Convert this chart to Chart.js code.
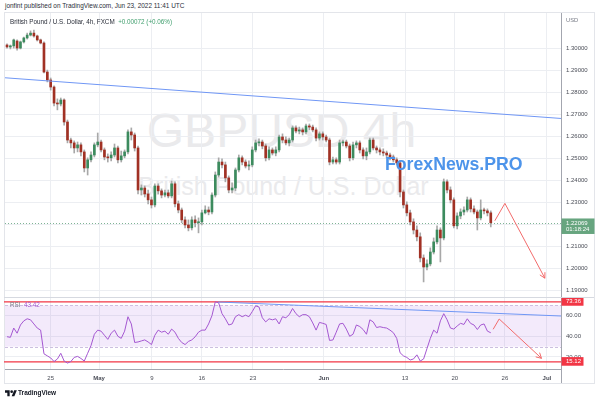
<!DOCTYPE html>
<html>
<head>
<meta charset="utf-8">
<script src="https://cdn.jsdelivr.net/npm/chart.js@4/dist/chart.umd.min.js"></script>
<style>
  body { margin: 0; width: 600px; height: 403px; background: #fff; position: relative; overflow: hidden;
         font-family: "Liberation Sans", Arial, sans-serif; }
  .t { position: absolute; white-space: nowrap; line-height: 1; }
  canvas { position: absolute; left: 0; }
</style>
</head>
<body>
<div class="t" style="left:5px;top:3.3px;font-size:6.45px;color:#2a2e39">jonfint published on TradingView.com, Jun 23, 2022 11:41 UTC</div>
<div style="position:absolute;left:4px;top:12px;width:589px;height:370px;border:1px solid #e3e5ea"></div>
<div class="t" style="left:0;width:563px;text-align:center;top:106.5px;font-size:48px;color:#eaeaec">GBPUSD 4h</div>
<div class="t" style="left:0;width:567px;text-align:center;top:173.8px;font-size:25px;color:#eaeaec">British Pound / U.S. Dollar</div>

<canvas id="priceChart" width="600" height="284" style="top:13px"></canvas>
<canvas id="rsiChart" width="600" height="86" style="top:297px"></canvas>

<div class="t" style="left:10px;top:19.3px;font-size:6.3px;color:#2a2e39">British Pound / U.S. Dollar, 4h, FXCM&nbsp; <span style="color:#3f9e6d">+0.00072 (+0.06%)</span></div>
<div class="t" style="left:566px;top:18.1px;font-size:5.8px;color:#787b86">USD</div>
<div class="t" style="left:385px;top:156.3px;font-size:17.7px;font-weight:bold;color:#4d94ea">ForexNews.PRO</div>
<div class="t" style="left:10px;top:302.4px;font-size:6.3px;color:#787b86">RSI&nbsp; <span style="color:#a457d1">43.42</span></div>
<svg style="position:absolute;left:5px;top:389px" width="12" height="8" viewBox="0 0 36 24">
  <path d="M14 22H7V11H0V4h14v18zM28 22h-8l7.5-18h8L28 22z" fill="#131722"/><circle cx="20" cy="8" r="4" fill="#131722"/>
</svg>
<div class="t" style="left:18px;top:389.8px;font-size:6.5px;font-weight:bold;color:#131722">TradingView</div>

<script>
// time axis: positions are candle indexes (one candle = 8 hours)
const tickPos = [13.0, 27.4, 43.1, 58.0, 73.2, 94.3, 118.5, 133.3, 148.2, 160.7];
const tickLabels = ['25', 'May', '9', '16', '23', 'Jun', '13', '20', '26', 'Jul'];
const monthLabels = ['May', 'Jun', 'Jul'];
const priceTicks = [1.19, 1.20, 1.21, 1.22, 1.23, 1.24, 1.25, 1.26, 1.27, 1.28, 1.29, 1.30];
const rsiTicks = [20, 40, 60];

const opens = [
  1.3015,1.3006,1.3011,1.3033,1.3001,1.3029,1.3047,1.3060,1.3069,1.3056,
  1.3038,1.3024,1.2892,1.2856,1.2824,1.2751,1.2747,1.2765,1.2665,1.2583,
  1.2570,1.2547,1.2561,1.2529,1.2456,1.2493,1.2515,1.2561,1.2574,1.2538,
  1.2506,1.2502,1.2515,1.2547,1.2493,1.2511,1.2529,1.2620,1.2606,1.2547,
  1.2356,1.2365,1.2338,1.2311,1.2288,1.2374,1.2352,1.2333,1.2343,1.2329,
  1.2384,1.2293,1.2265,1.2220,1.2197,1.2184,1.2220,1.2207,1.2211,1.2252,
  1.2265,1.2256,1.2333,1.2424,1.2483,1.2470,1.2411,1.2356,1.2365,1.2447,
  1.2502,1.2483,1.2465,1.2470,1.2538,1.2570,1.2574,1.2556,1.2502,1.2538,
  1.2524,1.2538,1.2597,1.2583,1.2570,1.2583,1.2638,1.2624,1.2629,1.2620,
  1.2647,1.2642,1.2629,1.2592,1.2611,1.2597,1.2583,1.2483,1.2493,1.2483,
  1.2570,1.2574,1.2556,1.2502,1.2561,1.2570,1.2538,1.2511,1.2529,1.2583,
  1.2547,1.2538,1.2529,1.2524,1.2515,1.2506,1.2493,1.2479,1.2347,1.2288,
  1.2252,1.2211,1.2174,1.2143,1.2047,1.2006,1.2020,1.2074,1.2120,1.2174,
  1.2138,1.2393,1.2356,1.2311,1.2193,1.2238,1.2256,1.2265,1.2311,1.2270,
  1.2256,1.2229,1.2265,1.2261,1.2252
];
const highs = [
  1.3020,1.3015,1.3042,1.3038,1.3033,1.3051,1.3069,1.3079,1.3083,1.3060,
  1.3042,1.3029,1.2901,1.2865,1.2829,1.2770,1.2774,1.2770,1.2674,1.2592,
  1.2579,1.2574,1.2570,1.2538,1.2502,1.2529,1.2570,1.2615,1.2583,1.2547,
  1.2520,1.2529,1.2565,1.2556,1.2533,1.2538,1.2629,1.2638,1.2615,1.2556,
  1.2379,1.2374,1.2356,1.2324,1.2384,1.2384,1.2361,1.2356,1.2356,1.2397,
  1.2393,1.2306,1.2274,1.2234,1.2220,1.2234,1.2238,1.2229,1.2265,1.2284,
  1.2279,1.2343,1.2438,1.2502,1.2497,1.2483,1.2420,1.2388,1.2456,1.2515,
  1.2511,1.2493,1.2488,1.2552,1.2583,1.2588,1.2583,1.2565,1.2552,1.2547,
  1.2552,1.2606,1.2611,1.2597,1.2592,1.2647,1.2647,1.2642,1.2638,1.2656,
  1.2656,1.2651,1.2638,1.2620,1.2620,1.2606,1.2592,1.2506,1.2502,1.2583,
  1.2583,1.2583,1.2565,1.2574,1.2579,1.2579,1.2547,1.2547,1.2592,1.2592,
  1.2556,1.2547,1.2543,1.2533,1.2524,1.2515,1.2502,1.2488,1.2356,1.2302,
  1.2265,1.2225,1.2193,1.2161,1.2061,1.2038,1.2093,1.2138,1.2193,1.2184,
  1.2406,1.2402,1.2370,1.2320,1.2252,1.2270,1.2279,1.2324,1.2320,1.2284,
  1.2265,1.2311,1.2274,1.2270,1.2261
];
const lows = [
  1.3001,1.2997,1.3001,1.2992,1.2997,1.3024,1.3042,1.3056,1.3051,1.3033,
  1.3020,1.2888,1.2847,1.2810,1.2738,1.2720,1.2738,1.2651,1.2570,1.2547,
  1.2524,1.2529,1.2511,1.2438,1.2424,1.2483,1.2506,1.2552,1.2529,1.2493,
  1.2483,1.2488,1.2506,1.2479,1.2483,1.2502,1.2520,1.2583,1.2533,1.2338,
  1.2333,1.2324,1.2293,1.2274,1.2279,1.2338,1.2320,1.2324,1.2320,1.2320,
  1.2279,1.2252,1.2207,1.2184,1.2170,1.2174,1.2188,1.2161,1.2197,1.2247,
  1.2243,1.2247,1.2324,1.2415,1.2456,1.2393,1.2343,1.2343,1.2352,1.2438,
  1.2470,1.2456,1.2447,1.2461,1.2529,1.2556,1.2543,1.2488,1.2493,1.2515,
  1.2511,1.2529,1.2570,1.2561,1.2556,1.2574,1.2615,1.2611,1.2606,1.2611,
  1.2629,1.2620,1.2579,1.2583,1.2583,1.2574,1.2470,1.2474,1.2474,1.2474,
  1.2556,1.2547,1.2488,1.2493,1.2547,1.2524,1.2497,1.2493,1.2520,1.2538,
  1.2524,1.2515,1.2511,1.2502,1.2493,1.2483,1.2470,1.2324,1.2274,1.2238,
  1.2197,1.2156,1.2124,1.2029,1.1938,1.1993,1.2011,1.2065,1.2111,1.2029,
  1.2129,1.2343,1.2297,1.2184,1.2179,1.2225,1.2243,1.2256,1.2256,1.2247,
  1.2174,1.2220,1.2247,1.2238,1.2188
];
const closes = [
  1.3006,1.3011,1.3038,1.3001,1.3029,1.3047,1.3060,1.3069,1.3056,1.3038,
  1.3024,1.2892,1.2856,1.2824,1.2751,1.2747,1.2765,1.2665,1.2583,1.2570,
  1.2547,1.2561,1.2529,1.2456,1.2493,1.2515,1.2561,1.2574,1.2538,1.2506,
  1.2502,1.2515,1.2547,1.2493,1.2511,1.2529,1.2620,1.2606,1.2547,1.2356,
  1.2365,1.2338,1.2311,1.2288,1.2374,1.2352,1.2333,1.2343,1.2329,1.2384,
  1.2293,1.2265,1.2220,1.2197,1.2184,1.2220,1.2207,1.2211,1.2252,1.2265,
  1.2256,1.2333,1.2424,1.2483,1.2470,1.2411,1.2356,1.2365,1.2447,1.2502,
  1.2483,1.2465,1.2470,1.2538,1.2570,1.2574,1.2556,1.2502,1.2538,1.2524,
  1.2538,1.2597,1.2583,1.2570,1.2583,1.2638,1.2624,1.2629,1.2620,1.2647,
  1.2642,1.2629,1.2592,1.2611,1.2597,1.2583,1.2483,1.2493,1.2483,1.2570,
  1.2574,1.2556,1.2502,1.2561,1.2570,1.2538,1.2511,1.2529,1.2583,1.2547,
  1.2538,1.2529,1.2524,1.2515,1.2506,1.2493,1.2479,1.2347,1.2288,1.2252,
  1.2211,1.2174,1.2143,1.2047,1.2006,1.2020,1.2074,1.2120,1.2174,1.2138,
  1.2393,1.2356,1.2311,1.2193,1.2238,1.2256,1.2265,1.2311,1.2270,1.2256,
  1.2229,1.2265,1.2261,1.2252,1.22069
];
const rsi = [
  39.6,39,48,43,51,55,57,56,52,48,
  46,23,21,19,15.5,18,23.5,16,14,15.5,
  19.5,20.5,18.5,16,23.5,31,42,46,45,41,
  37,43,46,40,38,45,59,52,34,34.5,
  35.5,36.5,34.5,32,41,46,44,45,42,47,
  44,38,34,32,35,36.5,39.5,44,46,46,
  52,60,73.5,72.5,62,57,51,52,59,61,
  59,60.5,59,64,69.5,68.5,58,54,57,56,
  57,52,59,58,61,67,62,59,61,61,
  59,53,46,53.5,52.6,51.5,36,36.4,44,52,
  52.6,47,40,42,51,49.5,46.6,42,56,54,
  48.5,49.3,48.5,48,46,43.5,38,24,21,19.5,
  17,18,22,16,18,28,38,46,43,55,
  62,56,48,47,50,52.6,51.5,57,52.5,51,
  46.6,51,52,45,43.42
];

const lastPrice = 1.22069;
const countdown = '01:18:24';
// drawings
const trendX = [-0.6, 164.9];
const trendY = [1.2866, 1.2681];
const arrowX = [145.2, 148.2, 160.1];
const arrowY = [1.2216, 1.2295, 1.1955];
const rsiLevels = [73.36, 15.12];
const rsiTrendX = [62.8, 164.9];
const rsiTrendY = [73.3, 59.7];
const rsiArrowX = [144.7, 146.5, 159.1];
const rsiArrowY = [46.8, 56.8, 18.6];

const X_MIN = -0.6, X_MAX = 164.9;
const GRID = '#eceef2', AXIS = '#a3a6af';
const UP = '#3c8b5e', DOWN = '#a13124', WICK = '#a8a8a8';
const BLUE = '#7097f5', RED = '#f26b6b', PURPLE = '#a457d1';

Chart.defaults.font.family = '"Liberation Sans", Arial, sans-serif';
Chart.defaults.font.size = 6;
Chart.defaults.color = '#4a4d57';

const pts = (xs, ys) => xs.map((x, i) => ({ x, y: ys[i] }));

function arrowHead(ctx, sx, sy, xs, ys, color) {
  const n = xs.length;
  const x1 = sx.getPixelForValue(xs[n - 2]), y1 = sy.getPixelForValue(ys[n - 2]);
  const x2 = sx.getPixelForValue(xs[n - 1]), y2 = sy.getPixelForValue(ys[n - 1]);
  const ang = Math.atan2(y2 - y1, x2 - x1);
  ctx.save();
  ctx.strokeStyle = color;
  ctx.lineWidth = 1;
  ctx.beginPath();
  [-0.5, 0.5].forEach(d => {
    ctx.moveTo(x2, y2);
    ctx.lineTo(x2 - 6 * Math.cos(ang + d), y2 - 6 * Math.sin(ang + d));
  });
  ctx.stroke();
  ctx.restore();
}

function axisBox(ctx, area, yPix, h, color, lines) {
  ctx.fillStyle = color;
  ctx.fillRect(area.right + 0.5, yPix - 4.3, lines.length > 1 ? 33 : 22, h);
  ctx.fillStyle = '#fff';
  ctx.font = '6px "Liberation Sans", Arial, sans-serif';
  ctx.textBaseline = 'middle';
  lines.forEach((s, i) => ctx.fillText(s, area.right + 5, yPix + 0.3 + i * 6.4));
}

const priceExtras = {
  id: 'priceExtras',
  beforeDatasetsDraw(chart) {
    const { ctx, chartArea: a, scales: { y } } = chart;
    const py = Math.round(y.getPixelForValue(lastPrice)) + 0.5;
    ctx.save();
    ctx.strokeStyle = '#7fb494';
    ctx.setLineDash([1, 2]);
    ctx.beginPath();
    ctx.moveTo(a.left, py);
    ctx.lineTo(a.right, py);
    ctx.stroke();
    ctx.restore();
  },
  afterDraw(chart) {
    const { ctx, chartArea: a, scales: { x, y } } = chart;
    arrowHead(ctx, x, y, arrowX, arrowY, RED);
    ctx.save();
    axisBox(ctx, a, y.getPixelForValue(lastPrice), 15.5, '#67a57f', [lastPrice.toFixed(5), countdown]);
    ctx.restore();
  }
};

const rsiExtras = {
  id: 'rsiExtras',
  beforeDatasetsDraw(chart) {
    const { ctx, chartArea: a, scales: { y } } = chart;
    const y70 = y.getPixelForValue(70), y30 = y.getPixelForValue(30);
    ctx.save();
    ctx.fillStyle = 'rgba(155, 80, 220, 0.12)';
    ctx.fillRect(a.left, y70, a.right - a.left, y30 - y70);
    ctx.strokeStyle = '#cdbfe0';
    ctx.setLineDash([3, 2]);
    [y70, y30].forEach(v => {
      ctx.beginPath();
      ctx.moveTo(a.left, Math.round(v) + 0.5);
      ctx.lineTo(a.right, Math.round(v) + 0.5);
      ctx.stroke();
    });
    ctx.setLineDash([]);
    ctx.strokeStyle = '#f23645';
    ctx.lineWidth = 1.3;
    rsiLevels.forEach(l => {
      const v = y.getPixelForValue(l);
      ctx.beginPath();
      ctx.moveTo(a.left - 1, v);
      ctx.lineTo(a.right, v);
      ctx.stroke();
    });
    ctx.restore();
  },
  afterDraw(chart) {
    const { ctx, chartArea: a, scales: { x, y } } = chart;
    arrowHead(ctx, x, y, rsiArrowX, rsiArrowY, RED);
    ctx.save();
    rsiLevels.forEach(l => axisBox(ctx, a, y.getPixelForValue(l) - 0.5, 8.6, '#f23645', [l.toFixed(2)]));
    ctx.strokeStyle = '#d6d9e0';
    ctx.beginPath();
    ctx.moveTo(4, 0.5);
    ctx.lineTo(594, 0.5);
    ctx.stroke();
    ctx.strokeStyle = AXIS;
    ctx.beginPath();
    ctx.moveTo(a.right + 0.5, a.bottom);
    ctx.lineTo(a.right + 0.5, chart.height);
    ctx.stroke();
    ctx.restore();
  }
};

const baseX = {
  type: 'linear', min: X_MIN, max: X_MAX, offset: false,
  grid: { color: GRID, drawTicks: false, offset: false },
  afterBuildTicks: s => { s.ticks = tickPos.map(v => ({ value: v })); }
};

new Chart(document.getElementById('priceChart'), {
  type: 'bar',
  data: {
    datasets: [
      { type: 'line', data: pts(trendX, trendY), borderColor: BLUE, borderWidth: 1, pointRadius: 0, order: 0 },
      { type: 'line', data: pts(arrowX, arrowY), borderColor: RED, borderWidth: 1, pointRadius: 0, order: 0 },
      {
        data: closes.map((c, i) => ({ x: i, y: [opens[i], c] })),
        backgroundColor: closes.map((c, i) => c >= opens[i] ? UP : DOWN),
        barThickness: 2, minBarLength: 1, grouped: false, order: 1
      },
      {
        data: closes.map((c, i) => ({ x: i, y: [lows[i], highs[i]] })),
        backgroundColor: WICK, barThickness: 1, grouped: false, order: 2
      }
    ]
  },
  options: {
    responsive: false, animation: false, events: [],
    layout: { padding: { left: 5 } },
    plugins: { legend: { display: false }, tooltip: { enabled: false } },
    scales: {
      x: {
        ...baseX,
        border: { display: false },
        ticks: { display: false },
        afterFit: s => { s.height = 0; s.paddingLeft = 0; s.paddingRight = 0; }
      },
      y: {
        position: 'right', min: 1.18695, max: 1.31604, beginAtZero: false,
        grid: { color: GRID, drawTicks: false },
        border: { color: AXIS },
        ticks: { padding: 5, autoSkip: false, callback: v => v.toFixed(5) },
        afterBuildTicks: s => { s.ticks = priceTicks.map(v => ({ value: v })); },
        afterFit: s => { s.width = 39; s.paddingTop = 0; s.paddingBottom = 0; }
      }
    }
  },
  plugins: [priceExtras]
});

new Chart(document.getElementById('rsiChart'), {
  type: 'line',
  data: {
    datasets: [
      { data: pts(rsiTrendX, rsiTrendY), borderColor: BLUE, borderWidth: 1, pointRadius: 0 },
      { data: pts(rsiArrowX, rsiArrowY), borderColor: RED, borderWidth: 1, pointRadius: 0 },
      { data: rsi.map((v, i) => ({ x: i, y: v })), borderColor: PURPLE, borderWidth: 1, pointRadius: 0, tension: 0 }
    ]
  },
  options: {
    responsive: false, animation: false, events: [],
    layout: { padding: { left: 5 } },
    plugins: { legend: { display: false }, tooltip: { enabled: false } },
    scales: {
      x: {
        ...baseX,
        border: { color: AXIS },
        ticks: {
          padding: 6, autoSkip: false, maxRotation: 0,
          callback: (v, i) => tickLabels[i],
          font: c => ({ size: 6, weight: monthLabels.includes(tickLabels[c.index]) ? 'bold' : 'normal' })
        },
        afterFit: s => { s.height = 14; s.paddingLeft = 0; s.paddingRight = 0; }
      },
      y: {
        position: 'right', min: 8.25, max: 78.16,
        grid: { color: GRID, drawTicks: false },
        border: { color: AXIS },
        ticks: { padding: 5, autoSkip: false, callback: v => v.toFixed(2) },
        afterBuildTicks: s => { s.ticks = rsiTicks.map(v => ({ value: v })); },
        afterFit: s => { s.width = 39; s.paddingTop = 0; s.paddingBottom = 0; }
      }
    }
  },
  plugins: [rsiExtras]
});
</script>
</body>
</html>
